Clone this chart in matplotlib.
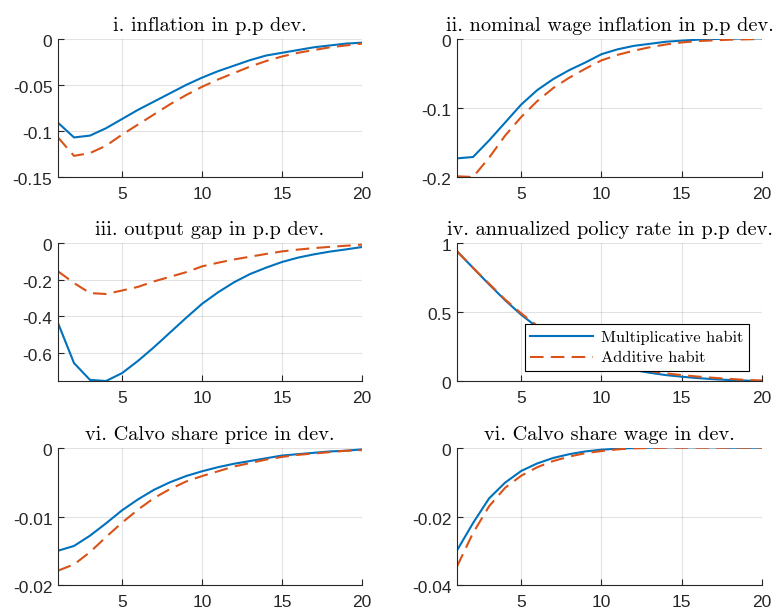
import matplotlib
matplotlib.use("Agg")
import matplotlib.pyplot as plt
import matplotlib.transforms as mtransforms

# horizon
periods = list(range(1, 21))

# i. inflation
infl_mult = [-0.091, -0.107, -0.105, -0.097, -0.087, -0.077, -0.068, -0.059, -0.050, -0.042,
             -0.035, -0.029, -0.023, -0.018, -0.015, -0.012, -0.009, -0.007, -0.005, -0.004]
infl_add = [-0.107, -0.127, -0.124, -0.116, -0.104, -0.093, -0.082, -0.071, -0.061, -0.052,
            -0.044, -0.037, -0.030, -0.024, -0.019, -0.015, -0.012, -0.009, -0.007, -0.005]

# ii. nominal wage inflation
wage_mult = [-0.173, -0.171, -0.147, -0.121, -0.095, -0.074, -0.058, -0.045, -0.034, -0.022,
             -0.015, -0.010, -0.007, -0.004, -0.0024, -0.001, 0.0, 0.0005, 0.0008, 0.001]
wage_add = [-0.199, -0.200, -0.172, -0.140, -0.113, -0.090, -0.071, -0.056, -0.043, -0.031,
            -0.023, -0.017, -0.012, -0.008, -0.005, -0.003, -0.002, -0.001, -0.0005, 0.0]

# iii. output gap
gap_mult = [-0.438, -0.657, -0.749, -0.755, -0.712, -0.645, -0.570, -0.490, -0.410, -0.333,
            -0.270, -0.215, -0.170, -0.135, -0.104, -0.080, -0.062, -0.047, -0.035, -0.022]
gap_add = [-0.155, -0.219, -0.274, -0.279, -0.260, -0.240, -0.210, -0.185, -0.160, -0.128,
           -0.108, -0.090, -0.075, -0.060, -0.046, -0.036, -0.028, -0.021, -0.015, -0.009]

# iv. annualized policy rate
rate_mult = [0.94, 0.82, 0.70, 0.585, 0.48, 0.39, 0.31, 0.245, 0.19, 0.145,
             0.11, 0.08, 0.06, 0.043, 0.031, 0.021, 0.013, 0.007, 0.003, 0.0]
rate_add = [0.94, 0.82, 0.705, 0.59, 0.49, 0.40, 0.32, 0.255, 0.20, 0.157,
            0.122, 0.093, 0.072, 0.055, 0.043, 0.032, 0.023, 0.015, 0.008, 0.003]

# vi. Calvo share price
cprice_mult = [-0.0150, -0.0143, -0.0128, -0.0110, -0.0091, -0.0075, -0.0061, -0.0050, -0.0041, -0.0034,
               -0.0028, -0.0023, -0.0019, -0.0015, -0.0011, -0.0009, -0.0007, -0.0005, -0.0004, -0.0002]
cprice_add = [-0.0179, -0.0170, -0.0152, -0.0130, -0.0109, -0.0090, -0.0073, -0.0060, -0.0049, -0.0041,
              -0.0034, -0.0027, -0.0022, -0.0017, -0.0013, -0.0010, -0.0008, -0.0006, -0.0004, -0.0003]

# vi. Calvo share wage
cwage_mult = [-0.0299, -0.0219, -0.0147, -0.0101, -0.0067, -0.0045, -0.0029, -0.0018, -0.0010, -0.0005,
              -0.0002, 0.0, 0.0001, 0.0002, 0.0002, 0.0002, 0.0002, 0.0001, 0.0001, 0.0001]
cwage_add = [-0.0346, -0.0248, -0.0170, -0.0116, -0.0081, -0.0056, -0.0038, -0.0025, -0.0015, -0.0009,
             -0.0004, -0.0001, 0.0, 0.0001, 0.0001, 0.0001, 0.0001, 0.0001, 0.0001, 0.0001]

titles = ["i. inflation in p.p dev.", "ii. nominal wage inflation in p.p dev.",
          "iii. output gap in p.p dev.", "iv. annualized policy rate in p.p dev.",
          "vi. Calvo share price in dev.", "vi. Calvo share wage in dev."]
series = [(infl_mult, infl_add), (wage_mult, wage_add), (gap_mult, gap_add),
          (rate_mult, rate_add), (cprice_mult, cprice_add), (cwage_mult, cwage_add)]
ylims = [(-0.15, 0), (-0.2, 0), (-0.755, 0), (0, 1), (-0.02, 0), (-0.04, 0)]
yticks = [[-0.15, -0.1, -0.05, 0], [-0.2, -0.1, 0], [-0.6, -0.4, -0.2, 0],
          [0, 0.5, 1], [-0.02, -0.01, 0], [-0.04, -0.02, 0]]
yticklabels = [["-0.15", "-0.1", "-0.05", "0"], ["-0.2", "-0.1", "0"], ["-0.6", "-0.4", "-0.2", "0"],
               ["0", "0.5", "1"], ["-0.02", "-0.01", "0"], ["-0.04", "-0.02", "0"]]

blue = "#0072BD"
orange = "#D95319"
txt = "#262626"

plt.rcParams["font.family"] = ["Liberation Sans", "DejaVu Sans"]

fig = plt.figure(figsize=(7.76, 6.14), dpi=100)

W, H = 776.0, 614.0
cols = [(58, 362), (457, 762)]
rows = [(39, 177), (243, 381), (448, 585)]

# matlab puts y tick labels a touch below the tick
ylab_shift = mtransforms.ScaledTranslation(0, -1.6 / 72, fig.dpi_scale_trans)

for i in range(6):
    r, c = divmod(i, 2)
    x0, x1 = cols[c]
    y0, y1 = rows[r]
    ax = fig.add_axes([x0 / W, 1 - y1 / H, (x1 - x0) / W, (y1 - y0) / H])
    m, a = series[i]
    ax.plot(periods, m, color=blue, lw=1.5, label="Multiplicative habit")
    ax.plot(periods, a, color=orange, lw=1.5, linestyle=(0, (6.5, 3.5)), label="Additive habit")
    ax.set_xlim(1, 20)
    ax.set_ylim(*ylims[i])
    ax.set_xticks([5, 10, 15, 20])
    ax.set_yticks(yticks[i])
    ax.set_yticklabels(yticklabels[i])
    ax.grid(True, color="#262626", alpha=0.13, lw=0.8)
    ax.set_axisbelow(True)
    for s in ["top", "right"]:
        ax.spines[s].set_visible(False)
    for s in ["left", "bottom"]:
        ax.spines[s].set_color(txt)
        ax.spines[s].set_linewidth(0.8)
    ax.tick_params(direction="in", length=4, width=0.8, colors=txt, labelsize=12.5, pad=4)
    ax.tick_params(axis="x", pad=7)
    for lab in ax.get_yticklabels():
        lab.set_transform(lab.get_transform() + ylab_shift)
    ax.set_title(titles[i], family="cmr10", fontsize=14.6, color="black", pad=5.5)
    if i == 3:
        leg = ax.legend(loc="lower right", bbox_to_anchor=(0.957, 0.072), borderaxespad=0,
                        fancybox=False, framealpha=1, edgecolor="black", handlelength=3.8,
                        prop={"family": "cmr10", "size": 11.8}, borderpad=0.35,
                        labelspacing=0.38, handletextpad=0.5)
        leg.get_frame().set_linewidth(0.8)

fig.savefig("out.png", dpi=100)
